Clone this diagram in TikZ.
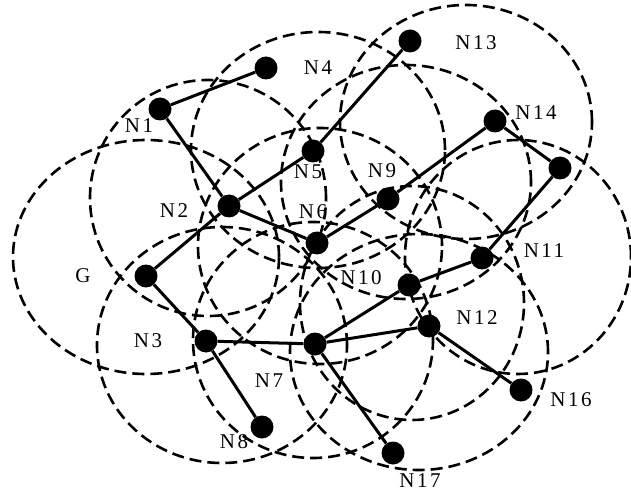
\documentclass[tikz,border=0pt]{standalone}
\usepackage{fontspec}
\setmainfont{Liberation Serif}[LetterSpace=12.0]
\begin{document}
\begin{tikzpicture}[x=1pt, y=-1pt,
  reach/.style={line width=2.6pt, dash pattern=on 12pt off 6pt},
  link/.style={line width=3pt},
  mote/.style={circle, fill=black, inner sep=0pt, minimum size=23pt},
  tag/.style={font=\fontsize{21}{24}\selectfont, inner sep=0pt}]
  \useasboundingbox (0,0) rectangle (631,494);
  % radio ranges
  \draw[reach] (146,257) ellipse [x radius=133pt, y radius=117pt];
  \draw[reach] (208,198) ellipse [x radius=118pt, y radius=118pt];
  \draw[reach] (222,345) ellipse [x radius=125pt, y radius=118pt];
  \draw[reach] (318,150) ellipse [x radius=127pt, y radius=118pt];
  \draw[reach] (320,246) ellipse [x radius=122pt, y radius=118pt];
  \draw[reach] (313,340) ellipse [x radius=120pt, y radius=118pt];
  \draw[reach] (406,182) ellipse [x radius=125pt, y radius=117pt];
  \draw[reach] (466,122) ellipse [x radius=126pt, y radius=117pt];
  \draw[reach] (412,303) ellipse [x radius=112pt, y radius=117pt];
  \draw[reach] (419,352) ellipse [x radius=129pt, y radius=118pt];
  \draw[reach] (518,257) ellipse [x radius=113pt, y radius=117pt];
  % motes
  \node[mote] (G) at (146,276) {};
  \node[mote] (N1) at (160,109) {};
  \node[mote] (N2) at (229,206) {};
  \node[mote] (N3) at (206,341) {};
  \node[mote] (N4) at (266,68) {};
  \node[mote] (N5) at (313,151) {};
  \node[mote] (N6) at (317,243) {};
  \node[mote] (N7) at (315,344) {};
  \node[mote] (N8) at (262,427) {};
  \node[mote] (N9) at (388,199) {};
  \node[mote] (N10) at (409,285) {};
  \node[mote] (N11) at (482,258) {};
  \node[mote] (N12) at (429,326) {};
  \node[mote] (N13) at (410,41) {};
  \node[mote] (N14) at (495,121) {};
  \node[mote] (N15) at (560,168) {};
  \node[mote] (N16) at (521,390) {};
  \node[mote] (N17) at (393,453) {};
  % links
  \draw[link] (N1) -- (N4);
  \draw[link] (N1) -- (N2);
  \draw[link] (G) -- (N2);
  \draw[link] (N2) -- (N5);
  \draw[link] (N5) -- (N13);
  \draw[link] (N2) -- (N6);
  \draw[link] (N6) -- (N9);
  \draw[link] (N9) -- (N14);
  \draw[link] (N14) -- (N15);
  \draw[link] (N15) -- (N11);
  \draw[link] (N11) -- (N10);
  \draw[link] (N10) -- (N7);
  \draw[link] (N7) -- (N12);
  \draw[link] (N12) -- (N16);
  \draw[link] (N7) -- (N17);
  \draw[link] (N3) -- (N7);
  \draw[link] (G) -- (N3);
  \draw[link] (N3) -- (N8);
  % labels
  \node[tag] (tG) at (83,276) {G};
  \node[tag] (tN1) at (139,126) {N1};
  \node[tag] (tN2) at (174,211) {N2};
  \node[tag] (tN3) at (148,341) {N3};
  \node[tag] (tN4) at (318,68) {N4};
  \node[tag] (tN5) at (308,172) {N5};
  \node[tag] (tN6) at (313,212) {N6};
  \node[tag] (tN7) at (269,381) {N7};
  \node[tag] (tN8) at (234,442) {N8};
  \node[tag] (tN9) at (382,171) {N9};
  \node[tag] (tN10) at (361,278) {N10};
  \node[tag] (tN11) at (544,251) {N11};
  \node[tag] (tN12) at (477,318) {N12};
  \node[tag] (tN13) at (476,43) {N13};
  \node[tag] (tN14) at (536,113) {N14};
  \node[tag] (tN16) at (571,400) {N16};
  \node[tag] (tN17) at (420,481) {N17};
\end{tikzpicture}
\end{document}
